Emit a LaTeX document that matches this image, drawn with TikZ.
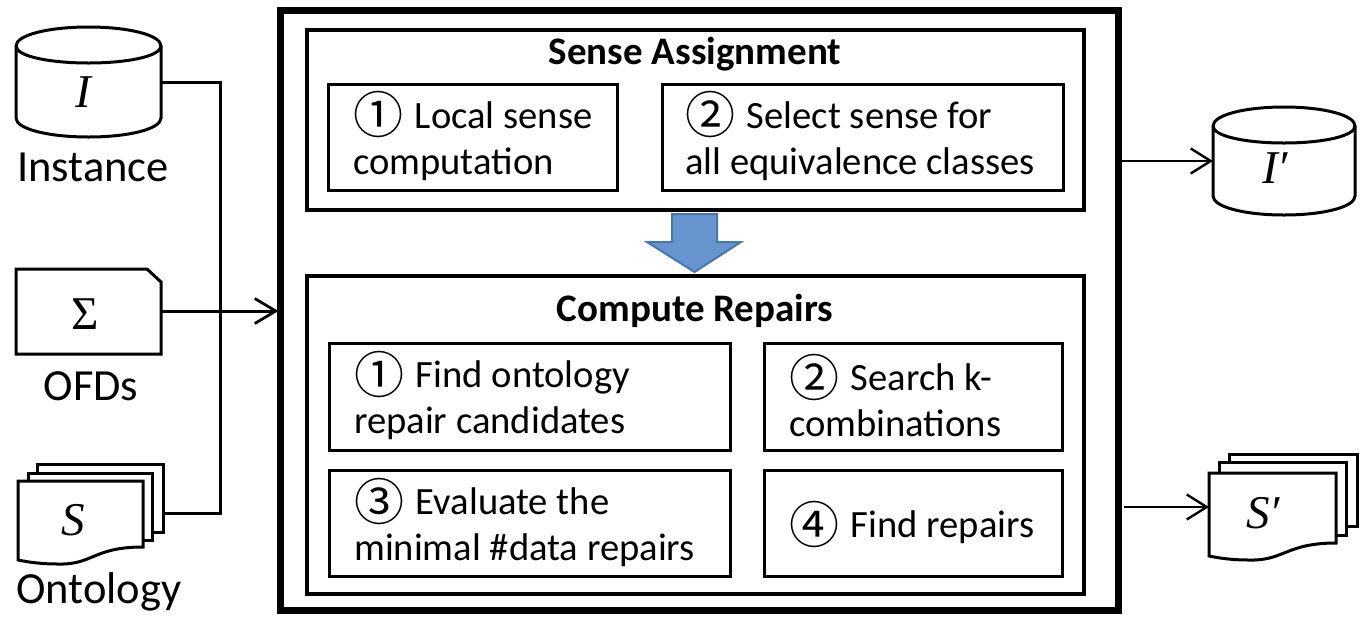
\documentclass[tikz,border=0pt]{standalone}
\usepackage{fontspec}
\setmainfont{Carlito}
\newfontfamily\mathf{Liberation Serif}
\newfontfamily\circf{Noto Sans CJK JP}
\usetikzlibrary{arrows.meta,calc}
\definecolor{blockfill}{RGB}{103,148,207}
\definecolor{blockline}{RGB}{73,118,173}
\tikzset{
  lab/.style={font=\fontsize{44.5}{48}\selectfont,inner sep=0pt,anchor=base},
  boxtxt/.style={font=\fontsize{38.6}{46}\selectfont,inner sep=0pt,align=left,anchor=west},
  title/.style={font=\bfseries\fontsize{39}{42}\selectfont,inner sep=0pt,anchor=base},
  sym/.style={font=\mathf\fontsize{47}{48}\selectfont,inner sep=0pt},
  holder/.style={rectangle,inner sep=0pt,outer sep=0pt},
  outerbox/.style={draw,line width=7pt,holder},
  midbox/.style={draw,line width=4.2pt,holder},
  smallbox/.style={draw,line width=3pt,holder},
  shapeline/.style={line width=3pt,fill=white,line join=miter},
  conn/.style={line width=3pt},
  arr/.style={line width=2.4pt,-{Straight Barb[length=20pt,width=25pt,line width=2.4pt]}},
  arrb/.style={line width=3pt,-{Straight Barb[length=21pt,width=25pt,line width=2.8pt]}},
}
\newcommand{\cnum}[1]{\smash{\raisebox{-5.5pt}{\circf\fontsize{50}{50}\selectfont #1}}\hspace{3pt}}
% name, x0, y0, x1, y1
\newcommand{\cylshape}[5]{%
  \pgfmathsetmacro{\xm}{(#2+#4)/2}\pgfmathsetmacro{\kx}{0.276*(#4-#2)}%
  \draw[shapeline] (#2,#3+19) -- (#2,#5-19)
     .. controls (#2,#5-8) and (\xm-\kx,#5) .. (\xm,#5)
     .. controls (\xm+\kx,#5) and (#4,#5-8) .. (#4,#5-19) -- (#4,#3+19)
     .. controls (#4,#3+8) and (\xm+\kx,#3) .. (\xm,#3)
     .. controls (\xm-\kx,#3) and (#2,#3+8) .. (#2,#3+19) -- cycle;
  \draw[shapeline,fill=none] (#2,#3+19) .. controls (#2,#3+29) and (\xm-\kx,#3+36) .. (\xm,#3+36)
     .. controls (\xm+\kx,#3+36) and (#4,#3+29) .. (#4,#3+19);
  \node[holder,minimum width=#4pt-#2pt,minimum height=#5pt-#3pt] (#1) at (\xm,{(#3+#5)/2}) {};
}
% one sheet of a stack: x0,y0,x1,y1 (y1 = lowest point of the wave)
\newcommand{\sheet}[4]{%
  \draw[shapeline] (#1,#2) -- (#3,#2) -- (#3,#4-17)
    .. controls (#3-50,#4-17) and (#1+75,#4+1) .. (#1+40,#4)
    .. controls (#1+22,#4) and (#1+10,#4-2) .. (#1,#4-4) -- cycle;
}
\newcommand{\flatsheet}[4]{%
  \draw[shapeline] (#1,#2) -- (#3,#2) -- (#3,#4) -- (#1,#4) -- cycle;
}
\begin{document}
\begin{tikzpicture}[x=1pt,y=-1pt]
\useasboundingbox (0,0) rectangle (1362,622);

% frame and containers
\node[outerbox,minimum width=838pt,minimum height=600pt] (frame) at (699.5,310) {};
\node[midbox,minimum width=777pt,minimum height=180pt] (sense) at (695.5,120) {};
\node[midbox,minimum width=777pt,minimum height=318pt] (repairs) at (695.5,435) {};
\node[title] (senset) at (695,64) {Sense Assignment};
\node[title] (repairst) at (695,321) {Compute Repairs};

\node[smallbox,minimum width=289pt,minimum height=106pt] (s1) at (473,137.5) {};
\node[smallbox,minimum width=401pt,minimum height=106pt] (s2) at (862.5,137.5) {};
\node[smallbox,minimum width=401pt,minimum height=107pt] (r1) at (529.5,396.5) {};
\node[smallbox,minimum width=298pt,minimum height=107pt] (r2) at (913,396.5) {};
\node[smallbox,minimum width=401pt,minimum height=106pt] (r3) at (529.5,523) {};
\node[smallbox,minimum width=298pt,minimum height=106pt] (r4) at (913,523) {};

\node[boxtxt] (s1t) at (353,141) {\cnum{①} Local sense\\computation};
\node[boxtxt] (s2t) at (685,141) {\cnum{②} Select sense for\\all equivalence classes};
\node[boxtxt] (r1t) at (354,400.5) {\cnum{①} Find ontology\\repair candidates};
\node[boxtxt] (r2t) at (789,400.5) {\cnum{②} Search k-\\combinations};
\node[boxtxt] (r3t) at (354,527.5) {\cnum{③} Evaluate the\\minimal \#data repairs};
\node[boxtxt] (r4t) at (789,527.5) {\cnum{④} Find repairs};

% block arrow
\draw[line width=2pt,draw=blockline,fill=blockfill,line join=miter]
  (672,214) -- (717,214) -- (717,242) -- (741,242) -- (694.5,272) -- (647,242) -- (672,242) -- cycle;

% inputs
\cylshape{inst}{16}{27}{161}{137}
\node[sym] (instsym) at (83,92) {\itshape I};
\node[lab] (instl) at (93,181.5) {Instance};

\draw[shapeline] (16,269) -- (147,269) -- (161,282) -- (161,354) -- (16,354) -- cycle;
\node[holder,minimum width=145pt,minimum height=85pt] (ofd) at (88.5,311) {};
\node[sym] (ofdsym) at (85,314) {Σ};
\node[lab] (ofdl) at (91,400.5) {OFDs};

\flatsheet{37}{464}{163}{532}
\flatsheet{28}{473}{152}{540}
\sheet{18}{481}{143}{564}
\node[holder,minimum width=145pt,minimum height=98pt] (onto) at (90.5,513) {};
\node[sym] (ontosym) at (73,520) {\itshape S};
\node[lab] (ontol) at (99,603) {Ontology};

% outputs
\cylshape{iout}{1213}{107}{1355}{215}
\node[sym] (ioutsym) at (1275,168) {\itshape I′};
\flatsheet{1229}{454}{1357}{526}
\flatsheet{1219}{462}{1346}{535}
\sheet{1209}{473}{1336}{560}
\node[holder,minimum width=148pt,minimum height=106pt] (sout) at (1283,507) {};
\node[sym] (soutsym) at (1263,513) {\itshape S′};

% connectors
\coordinate (bus) at (220,311);
\coordinate (soutfree) at (1124,507);
\draw[conn,line join=miter] (inst.east) -- (inst.east -| bus) -- (onto.east -| bus) -- (onto.east);
\draw[arrb,shorten >=2pt] (ofd.east) -- (ofd.east -| frame.west);
\draw[arr] (iout.west -| frame.east) -- (iout.west);
\draw[arr] (soutfree) -- (sout.west);
\end{tikzpicture}
\end{document}
